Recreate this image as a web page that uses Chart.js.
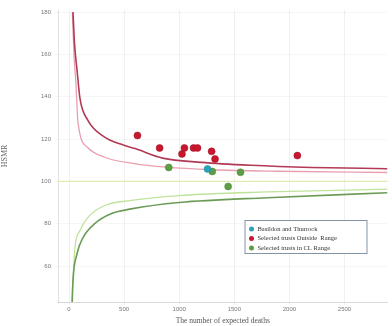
<!DOCTYPE html>
<html>
<head>
<meta charset="utf-8">
<script src="https://cdn.jsdelivr.net/npm/chart.js@4/dist/chart.umd.min.js"></script>
<style>
  html, body { margin: 0; padding: 0; background: #fff; }
  #wrap { width: 392px; height: 326px; }
</style>
</head>
<body>
<div id="wrap"><canvas id="funnel"></canvas></div>
<script>
// tick labels
const expectedTicks = [0, 500, 1000, 1500, 2000, 2500];
const smrTicks = [60, 80, 100, 120, 140, 160, 180];

// control limits
const upper3E = [36, 50, 72, 100, 170, 320, 475, 600, 850, 1200, 1650, 2200, 2890];
const upper3 = [180, 165, 153, 139, 129, 121, 117.5, 115.5, 111, 109, 107.6, 106.6, 106];
const upper2E = [30, 45, 63, 81, 170, 323, 592, 880, 1300, 1900, 2890];
const upper2 = [180, 160, 146, 128, 116, 111.4, 108.4, 106.7, 105.5, 104.8, 104.2];
const lower3E = [27, 36, 72, 126, 233, 386, 565, 1000, 1800, 2890];
const lower3 = [40, 53, 65.7, 73.3, 80, 84.8, 87, 90, 92.3, 94.6];
const lower2E = [22, 54, 99, 170, 323, 565, 1000, 1800, 2890];
const lower2 = [40, 68.6, 76.7, 82.9, 88.6, 91, 93.3, 95, 96.3];
const baselineE = [-100, 2890];
const baseline = [100, 100];

// trusts
const basildonE = [1257];
const basildonSMR = [105.9];
const outsideE = [621, 822, 1025, 1047, 1130, 1166, 1294, 1325, 2072];
const outsideSMR = [121.7, 115.8, 113, 115.8, 115.8, 115.8, 114.2, 110.6, 112.2];
const inRangeE = [905, 1300, 1444, 1556];
const inRangeSMR = [106.6, 104.7, 97.6, 104.3];

const pts = (xs, ys) => xs.map((x, i) => ({ x: x, y: ys[i] }));

function lineSet(xs, ys, color, width) {
  return {
    type: 'line', data: pts(xs, ys), borderColor: color, borderWidth: width,
    pointRadius: 0, cubicInterpolationMode: 'monotone', fill: false, legendHide: true
  };
}

// little boxed legend inside the plot, like the original
const boxLegend = {
  id: 'boxLegend',
  afterDraw(chart) {
    const ctx = chart.ctx;
    const a = chart.chartArea;
    const x0 = a.right - 143, y0 = a.top + 210;
    const w = 122, h = 33;
    ctx.save();
    ctx.fillStyle = '#fff';
    ctx.fillRect(x0, y0, w, h);
    ctx.strokeStyle = '#8494a8';
    ctx.lineWidth = 1;
    ctx.strokeRect(x0 + 0.5, y0 + 0.5, w, h);
    ctx.font = '6.5px "Liberation Serif"';
    ctx.textBaseline = 'middle';
    let row = 0;
    chart.data.datasets.forEach(ds => {
      if (ds.legendHide) return;
      const y = y0 + 9 + row * 9.5;
      ctx.beginPath();
      ctx.arc(x0 + 7, y, 2.5, 0, Math.PI * 2);
      ctx.fillStyle = ds.backgroundColor;
      ctx.fill();
      ctx.fillStyle = '#333';
      ctx.fillText(ds.label, x0 + 13, y);
      row++;
    });
    ctx.restore();
  }
};

new Chart(document.getElementById('funnel'), {
  type: 'scatter',
  data: {
    datasets: [
      { label: 'Basildon and Thurrock', data: pts(basildonE, basildonSMR),
        backgroundColor: '#2aa3b8', borderColor: '#1d8799', borderWidth: 0.5, pointRadius: 3.5 },
      { label: 'Selected trusts Outside  Range', data: pts(outsideE, outsideSMR),
        backgroundColor: '#c8172f', borderColor: '#a01024', borderWidth: 0.5, pointRadius: 3.5 },
      { label: 'Selected trusts in CL Range', data: pts(inRangeE, inRangeSMR),
        backgroundColor: '#5d9e44', borderColor: '#4a8535', borderWidth: 0.5, pointRadius: 3.5 },
      lineSet(upper3E, upper3, '#b23a55', 1.6),
      lineSet(upper2E, upper2, '#e8a0b0', 1.3),
      lineSet(lower3E, lower3, '#6c9b58', 1.6),
      lineSet(lower2E, lower2, '#bfe39a', 1.3),
      lineSet(baselineE, baseline, '#dfe9b0', 1.3)
    ]
  },
  options: {
    responsive: true,
    maintainAspectRatio: false,
    animation: false,
    layout: { padding: { top: 10, right: 0, left: 0, bottom: 0 } },
    plugins: {
      legend: { display: false },
      tooltip: { enabled: false }
    },
    scales: {
      x: {
        type: 'linear', min: -100, max: 2890,
        afterBuildTicks: s => { s.ticks = expectedTicks.map(v => ({ value: v })); },
        afterFit: s => { s.height = 24; },
        grid: { color: 'rgba(0,0,0,0.06)', drawTicks: true, tickLength: 3 },
        border: { color: 'rgba(0,0,0,0.15)' },
        ticks: { color: '#777', font: { size: 6 }, padding: 1, maxRotation: 0,
          callback: v => String(v) },
        title: { display: true, text: 'The number of expected deaths', color: '#555',
          font: { size: 7.5, family: '"Liberation Serif"' }, padding: { top: 2, bottom: 0 } }
      },
      y: {
        min: 43, max: 181,
        afterBuildTicks: s => { s.ticks = smrTicks.map(v => ({ value: v })); },
        afterFit: s => { s.width = 58; },
        grid: { color: 'rgba(0,0,0,0.035)', tickLength: 3 },
        border: { color: 'rgba(0,0,0,0.12)' },
        ticks: { color: '#777', font: { size: 6 }, padding: 4, callback: v => String(v) },
        title: { display: true, text: 'HSMR', color: '#666',
          font: { size: 8, family: '"Liberation Serif"' }, padding: { top: 0, bottom: 12 } }
      }
    }
  },
  plugins: [boxLegend]
});
</script>
</body>
</html>
